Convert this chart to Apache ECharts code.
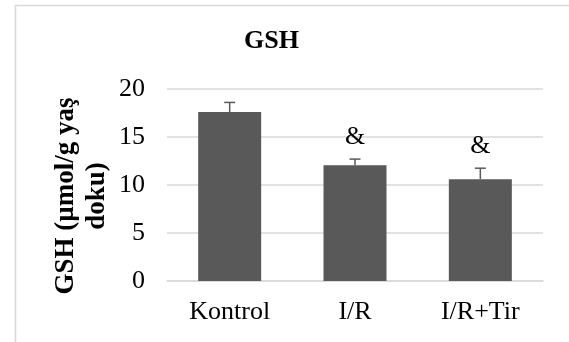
<!DOCTYPE html>
<html>
<head>
<meta charset="utf-8">
<script src="https://cdn.jsdelivr.net/npm/echarts@6/dist/echarts.min.js"></script>
<style>
html,body{margin:0;padding:0;background:#fff;}
#chart{width:569px;height:342px;}
</style>
</head>
<body>
<div id="chart"></div>
<script>
var categories = ['Kontrol', 'I/R', 'I/R+Tir'];
var means = [17.6, 12.05, 10.6];
var errors = [1.0, 0.65, 1.15];
var signs = ['', '&', '&'];
var yTicks = [0, 5, 10, 15, 20];

var FONT = "'Liberation Serif', 'Times New Roman', serif";
var chart = echarts.init(document.getElementById('chart'), null, {renderer: 'canvas'});

var errData = categories.map(function (c, i) { return [i, means[i], errors[i], signs[i]]; });

chart.setOption({
  animation: false,
  backgroundColor: '#ffffff',
  title: {
    text: 'GSH',
    left: 239,
    top: 23,
    textStyle: {fontFamily: FONT, fontWeight: 'bold', fontSize: 26, color: '#000'}
  },
  grid: {left: 167, right: 26, top: 89, bottom: 61, containLabel: false},
  xAxis: {
    type: 'category',
    data: categories,
    axisLine: {lineStyle: {color: '#d9d9d9', width: 1.5}},
    axisTick: {show: false},
    axisLabel: {fontFamily: FONT, fontSize: 26, color: '#000', margin: 18}
  },
  yAxis: {
    type: 'value',
    min: yTicks[0],
    max: yTicks[yTicks.length - 1],
    interval: yTicks[1] - yTicks[0],
    axisLine: {show: false},
    axisTick: {show: false},
    splitLine: {lineStyle: {color: '#d9d9d9', width: 1.5}},
    axisLabel: {fontFamily: FONT, fontSize: 26, color: '#000', margin: 22}
  },
  graphic: [
    {
      type: 'rect', z: -1, silent: true,
      shape: {x: 15.5, y: 5.5, width: 700, height: 500},
      style: {fill: 'none', stroke: '#d9d9d9', lineWidth: 1.5}
    },
    {
      type: 'text', x: 82, y: 196, rotation: Math.PI / 2,
      style: {
        text: 'GSH (µmol/g yaş\ndoku)',
        fontFamily: FONT, fontWeight: 'bold', fontSize: 27, lineHeight: 31,
        fill: '#000', textAlign: 'center', textVerticalAlign: 'middle'
      }
    }
  ],
  series: [
    {
      type: 'bar',
      data: means,
      barWidth: 63,
      itemStyle: {color: '#595959'},
      z: 2
    },
    {
      type: 'custom',
      data: errData,
      z: 3,
      renderItem: function (params, api) {
        var x = api.value(0);
        var m = api.value(1);
        var e = api.value(2);
        var s = signs[params.dataIndex];
        var p0 = api.coord([x, m]);
        var p1 = api.coord([x, m + e]);
        var children = [
          {type: 'line', shape: {x1: p0[0], y1: p0[1], x2: p1[0], y2: p1[1]}, style: {stroke: '#595959', lineWidth: 1.5}},
          {type: 'line', shape: {x1: p1[0] - 5.5, y1: p1[1], x2: p1[0] + 5.5, y2: p1[1]}, style: {stroke: '#595959', lineWidth: 1.5}}
        ];
        if (s) {
          children.push({type: 'text', x: p1[0], y: p1[1] - 22, style: {text: s, fontFamily: FONT, fontSize: 26, fill: '#000', textAlign: 'center', textVerticalAlign: 'middle'}});
        }
        return {type: 'group', children: children};
      }
    }
  ]
});
</script>
</body>
</html>
